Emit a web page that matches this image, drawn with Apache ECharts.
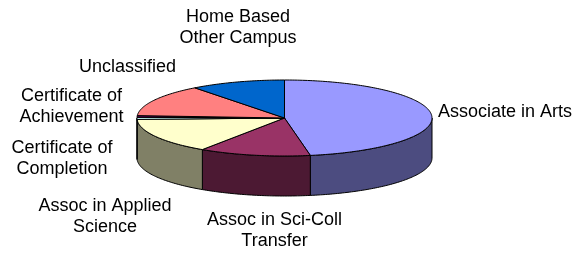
<!DOCTYPE html>
<html>
<head>
<meta charset="UTF-8">
<title>3D pie</title>
<style>
  html, body { margin: 0; padding: 0; background: #fff; }
  #main { width: 583px; height: 253px; }
</style>
<script src="https://cdn.jsdelivr.net/npm/echarts@6/dist/echarts.min.js"></script>
</head>
<body>
<div id="main"></div>
<script>
// data (share of students, %)
var categories = ['Associate in Arts', 'Assoc in Sci-Coll\nTransfer', 'Assoc in Applied\nScience',
  'Certificate of\nCompletion', 'Certificate of\nAchievement', 'Unclassified', 'Home Based\nOther Campus'];
var values = [47.2, 12.2, 15.0, 0.9, 0.7, 13.6, 10.4];

// styles / layout
var topColors = ['#9999FF', '#993366', '#FFFFCC', '#CCFFFF', '#660066', '#FF8080', '#0066CC'];
var sideColors = ['#4C4C80', '#4C1933', '#808066', '#668080', '#330033', '#804040', '#003366'];
var labelPos = [[438, 112, 'left'], [274.5, 231, 'center'], [105, 217, 'center'], [62, 158.5, 'center'],
  [71.5, 106.5, 'center'], [127.5, 67, 'center'], [238, 28, 'center']];
var cx = 284.5, cy = 118, rx = 147.5, ry = 38, depth = 40;

var total = values.reduce(function (a, b) { return a + b; }, 0);
var starts = [];
var acc = 0;
values.forEach(function (v) { starts.push(acc); acc += v; });

function pt(deg, dy) {
  var r = deg * Math.PI / 180;
  return [cx + rx * Math.sin(r), cy - ry * Math.cos(r) + (dy || 0)];
}
function arc(a0, a1, dy) {
  var pts = [];
  var n = Math.max(2, Math.ceil((a1 - a0) / 1));
  for (var i = 0; i <= n; i++) pts.push(pt(a0 + (a1 - a0) * i / n, dy));
  return pts;
}

var chart = echarts.init(document.getElementById('main'));
chart.setOption({
  animation: false,
  series: [{
    type: 'custom',
    coordinateSystem: 'none',
    data: values.map(function (v, i) { return [v, starts[i]]; }),
    renderItem: function (params, api) {
      var i = params.dataIndex;
      var a0 = api.value(1) / total * 360;
      var a1 = a0 + api.value(0) / total * 360;
      var children = [];
      // front wall (visible between 90 and 270 degrees)
      var s0 = Math.max(a0, 90), s1 = Math.min(a1, 270);
      if (s1 > s0) {
        var up = arc(s0, s1, 0);
        var down = arc(s0, s1, depth).reverse();
        children.push({
          type: 'polygon',
          shape: { points: up.concat(down) },
          style: { fill: sideColors[i], stroke: '#000', lineWidth: 1 }
        });
      }
      // top face
      children.push({
        type: 'polygon',
        shape: { points: [[cx, cy]].concat(arc(a0, a1, 0)) },
        style: { fill: topColors[i], stroke: '#000', lineWidth: 1, lineJoin: 'round' }
      });
      var lp = labelPos[i];
      children.push({
        type: 'text',
        x: lp[0], y: lp[1],
        style: {
          text: categories[i],
          fill: '#000',
          font: '18px "Liberation Sans", Arial, sans-serif',
          lineHeight: 21,
          align: lp[2],
          verticalAlign: 'middle'
        }
      });
      return { type: 'group', children: children };
    }
  }]
});
</script>
</body>
</html>
